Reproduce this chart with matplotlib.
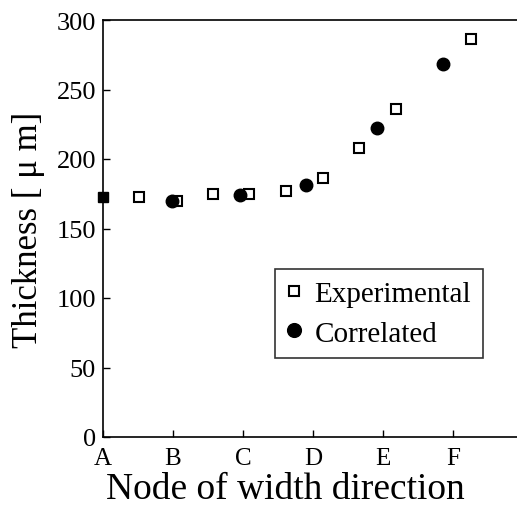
import matplotlib
matplotlib.use("Agg")
import matplotlib.pyplot as plt

plt.rcParams['font.family'] = ['Liberation Serif', 'DejaVu Serif']

node_labels = ['A', 'B', 'C', 'D', 'E', 'F']
exp_x = [0.0, 0.52, 1.05, 1.57, 2.08, 2.61, 3.14, 3.66, 4.19, 5.26]
exp_y = [173, 173, 170, 175, 175, 177, 186, 208, 236, 286]
cor_x = [0.99, 1.95, 2.90, 3.92, 4.85]
cor_y = [170, 174, 181, 222, 268]

fig = plt.figure(figsize=(5.17, 5.06), dpi=100)
W, H = 517, 506
ax = fig.add_axes([103 / W, (H - 438) / H, 420 / W, 417 / H])

ax.plot(exp_x[1:], exp_y[1:], linestyle='none', marker='s', markersize=7,
        markerfacecolor='white', markeredgecolor='black', markeredgewidth=1.5,
        label='Experimental', clip_on=False, zorder=3)
ax.plot(exp_x[:1], exp_y[:1], linestyle='none', marker='s', markersize=7,
        markerfacecolor='black', markeredgecolor='black', clip_on=False, zorder=3)
ax.plot(cor_x, cor_y, linestyle='none', marker='o', markersize=9,
        color='black', label='Correlated', clip_on=False, zorder=4)

ax.set_xlim(0, 6)
ax.set_ylim(0, 300)
ax.set_xticks(range(len(node_labels)))
ax.set_xticklabels(node_labels)
ax.set_yticks(range(0, 301, 50))
ax.tick_params(direction='in', length=5, width=1, labelsize=19, pad=5)
ax.tick_params(axis='x', labelsize=18, pad=7)
for s in ax.spines.values():
    s.set_linewidth(1.2)

ax.set_xlabel('Node of width direction', fontsize=27, va='baseline')
ax.xaxis.set_label_coords((285 - 103) / 420, -(499 - 438) / 417)
ax.set_ylabel('Thickness [ \u03bc m]', fontsize=25, labelpad=8)

leg = ax.legend(loc='upper left', bbox_to_anchor=(172 / 420, (438 - 270) / 417),
                fontsize=21, frameon=True, fancybox=False, edgecolor='black',
                handlelength=0.5, handletextpad=0.45, borderpad=0.4,
                labelspacing=0.45, borderaxespad=0, markerscale=1.1)
leg.get_frame().set_linewidth(1.2)

fig.savefig('out.png', dpi=100)
